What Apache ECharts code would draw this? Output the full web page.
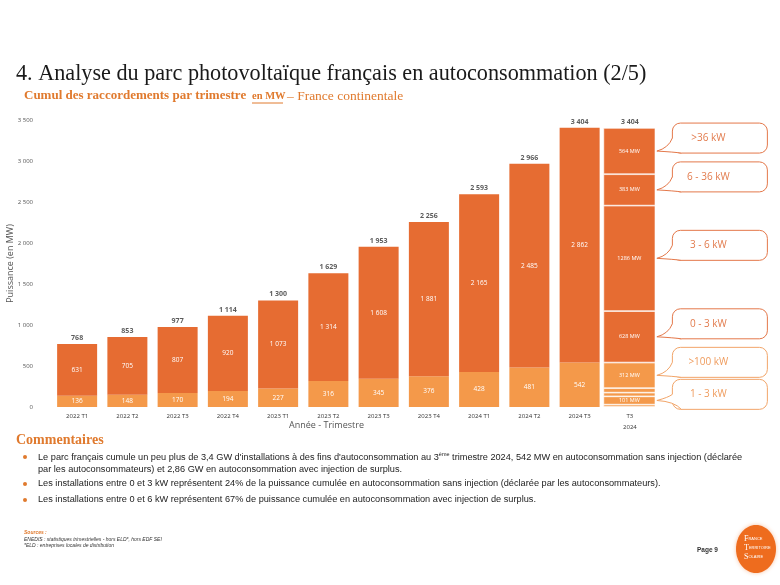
<!DOCTYPE html>
<html><head><meta charset="utf-8">
<script src="https://cdn.jsdelivr.net/npm/echarts@6/dist/echarts.min.js"></script>
<style>html,body{margin:0;padding:0;background:#fff}#c{width:780px;height:585px}</style>
</head><body><div id="c"></div>
<script>
// ---------- data ----------
const categories = ['2022 T1','2022 T2','2022 T3','2022 T4','2023 T1','2023 T2','2023 T3','2023 T4','2024 T1','2024 T2','2024 T3','T3\n2024'];
const sansInjection = [136,148,170,194,227,316,345,376,428,481,542];
const avecInjection = [631,705,807,920,1073,1314,1608,1881,2165,2485,2862];
const totals = [768,853,977,1114,1300,1629,1953,2256,2593,2966,3404,3404];
// breakdown of the 2024 T3 bar, bottom to top
const breakdownNames  = ['0 - 1 kW','1 - 3 kW','3 - 36 kW','36 - 100 kW','>100 kW','0 - 3 kW','3 - 6 kW','6 - 36 kW','>36 kW'];
const breakdownValues = [29,101,45,55,312,628,1286,383,564];
const breakdownGroup  = ['sans','sans','sans','sans','sans','avec','avec','avec','avec'];
const breakdownCallout = [false,true,false,false,true,true,true,true,true];
const yMin = 0, yMax = 3500, yInterval = 500;

// ---------- style ----------
const DARK = '#E66C32', LIGHT = '#F4994A';
const BAR_W = 40, BREAK_W = 53;
const fmt = v => String(v).replace(/\B(?=(\d{3})+(?!\d))/g, ' ');
const lastIdx = categories.length - 1;

const series = [
  { type:'bar', name:'Sans injection', stack:'a', xAxisIndex:0, barWidth:BAR_W,
    data: sansInjection.concat(['-']), itemStyle:{color:LIGHT},
    label:{show:true, position:'inside', color:'#fff', fontSize:6.5, fontFamily:'Open Sans', formatter:p=>fmt(p.value)} },
  { type:'bar', name:'Avec injection', stack:'a', xAxisIndex:0, barWidth:BAR_W,
    data: avecInjection.concat(['-']), itemStyle:{color:DARK},
    label:{show:true, position:'inside', color:'#fff', fontSize:6.5, fontFamily:'Open Sans', formatter:p=>fmt(p.value)} }
];
breakdownValues.forEach((v, i) => {
  const d = categories.map((c, k) => k === lastIdx ? v : '-');
  series.push({ type:'bar', name:breakdownNames[i], stack:'b', xAxisIndex:1, barWidth:BREAK_W, data:d,
    itemStyle:{color: breakdownGroup[i]==='sans' ? LIGHT : DARK, borderColor:'rgba(255,255,255,0.75)', borderWidth:0.8},
    label:{show: breakdownCallout[i], position:'inside', color:'#fff', fontSize:5.5, fontFamily:'Open Sans', formatter: v + ' MW'} });
});
series.push({ type:'scatter', xAxisIndex:0, data: totals, symbolSize:1, itemStyle:{color:'rgba(0,0,0,0)'},
  label:{show:true, position:'top', distance:2, color:'#333', fontWeight:'bold', fontSize:7, fontFamily:'Open Sans', formatter:p=>fmt(p.value)} });

// callouts (top to bottom)
const calloutData = [];
let acc = 0;
breakdownValues.forEach((v, i) => {
  if (breakdownCallout[i]) calloutData.push([lastIdx, acc, acc + v, breakdownNames[i], breakdownGroup[i]]);
  acc += v;
});
calloutData.reverse();
let prevBottom = -Infinity;
function renderCallout(params, api) {
  if (params.dataIndex === 0) prevBottom = -Infinity;
  const item = calloutData[params.dataIndex];
  const a = api.coord([api.value(0), api.value(1)]);
  const b = api.coord([api.value(0), api.value(2)]);
  const edgeX = a[0] + BREAK_W / 2;
  const segY = (a[1] + b[1]) / 2;
  const h = 30, w = 95;
  const top = Math.max(segY - 13 - h / 2, prevBottom + 2);
  prevBottom = top + h;
  const bx = edgeX + 16;
  const light = item[4] === 'sans';
  const col = light ? '#F2A569' : '#E4784A';
  const tcol = light ? '#EF9C5E' : '#E27B4D';
  const y1 = top + h - 15, y2 = top + h;
  const tail = `M ${bx} ${y1} Q ${bx-4} ${segY-3} ${edgeX+0.5} ${segY} Q ${bx+2} ${segY+1} ${bx+9} ${y2}`;
  return { type:'group', children:[
    { type:'rect', shape:{x:bx, y:top, width:w, height:h, r:8}, style:{fill:'#fff', stroke:col, lineWidth:1} },
    { type:'path', shape:{pathData: tail + ` L ${bx+9} ${y1} Z`}, style:{fill:'#fff', stroke:null} },
    { type:'path', shape:{pathData: tail}, style:{fill:null, stroke:col, lineWidth:1} },
    { type:'text', style:{x:bx + 36, y:top + h/2, text:item[3], fill:tcol, fontSize:10, fontFamily:'Open Sans', align:'center', verticalAlign:'middle'} }
  ]};
}
series.push({ type:'custom', xAxisIndex:1, yAxisIndex:0, data: calloutData, encode:{x:0, y:[1,2]},
  renderItem: renderCallout, z:10, silent:true });

const ORANGE = '#E07A2E';
const chart = echarts.init(document.getElementById('c'));
chart.setOption({
  animation:false,
  backgroundColor:'#fff',
  grid:{left:52, right:125, top:120, bottom:178, outerBoundsMode:'none', containLabel:false},
  xAxis:[
    { type:'category', data:categories, axisLine:{show:false}, axisTick:{show:false},
      axisLabel:{fontSize:6, color:'#333', fontFamily:'Open Sans', margin:4, interval:0, lineHeight:11},
      name:'Année - Trimestre', nameLocation:'middle', nameGap:14, nameMoveOverlap:false,
      nameTextStyle:{fontSize:9, color:'#555', fontFamily:'Open Sans', padding:[0,54,0,0]} },
    { type:'category', data:categories, show:false }
  ],
  yAxis:{ type:'value', min:yMin, max:yMax, interval:yInterval, splitLine:{show:false},
    axisLine:{show:false}, axisTick:{show:false},
    axisLabel:{fontSize:6, color:'#555', fontFamily:'Open Sans', margin:19, formatter:v=>fmt(v)},
    name:'Puissance (en MW)', nameLocation:'middle', nameGap:37, nameMoveOverlap:false,
    nameTextStyle:{fontSize:9, color:'#555', fontFamily:'Open Sans'} },
  series: series,
  graphic:[
    { type:'text', left:16, top:63, style:{text:'4. Analyse du parc photovoltaïque français en autoconsommation (2/5)', font:'22.2px "Liberation Serif"', fill:'#1a1a1a'} },
    { type:'text', left:24, top:89.5, style:{text:'Cumul des raccordements par trimestre', font:'bold 13px "Liberation Serif"', fill:ORANGE} },
    { type:'text', left:252, top:91, style:{text:'en MW', font:'bold 10.5px "Liberation Serif"', fill:ORANGE} },
    { type:'line', shape:{x1:252, y1:103, x2:283, y2:103}, style:{stroke:ORANGE, lineWidth:1} },
    { type:'text', left:287, top:89.5, style:{text:'– France continentale', font:'13.5px "Liberation Serif"', fill:ORANGE} },
    { type:'text', left:16, top:433, style:{text:'Commentaires', font:'bold 14px "Liberation Serif"', fill:ORANGE} },
    { type:'circle', shape:{cx:25, cy:457, r:2}, style:{fill:ORANGE} },
    { type:'circle', shape:{cx:25, cy:484, r:2}, style:{fill:ORANGE} },
    { type:'circle', shape:{cx:25, cy:500, r:2}, style:{fill:ORANGE} },
    { type:'text', left:38, top:451, style:{
        text:"{t|Le parc français cumule un peu plus de 3,4 GW d'installations à des fins d'autoconsommation au 3}{s|ème}{t| trimestre 2024, 542 MW en autoconsommation sans injection (déclarée}\n{t|par les autoconsommateurs) et 2,86 GW en autoconsommation avec injection de surplus.}",
        rich:{ t:{font:'9.2px "Liberation Sans"', fill:'#222', lineHeight:12}, s:{font:'5.5px "Liberation Sans"', fill:'#222', verticalAlign:'top', lineHeight:12} } } },
    { type:'text', left:38, top:479, style:{text:'Les installations entre 0 et 3 kW représentent 24% de la puissance cumulée en autoconsommation sans injection (déclarée par les autoconsommateurs).', font:'9.2px "Liberation Sans"', fill:'#222'} },
    { type:'text', left:38, top:495, style:{text:'Les installations entre 0 et 6 kW représentent 67% de puissance cumulée en autoconsommation avec injection de surplus.', font:'9.2px "Liberation Sans"', fill:'#222'} },
    { type:'text', left:24, top:530, style:{text:'Sources :', font:'italic bold 5px "Liberation Sans"', fill:ORANGE} },
    { type:'text', left:24, top:537, style:{text:'ENEDIS : statistiques trimestrielles - hors ELD*, hors EDF SEI\n*ELD : entreprises locales de distribution', font:'italic 5px "Liberation Sans"', fill:'#333', lineHeight:6} },
    { type:'text', left:697, top:547, style:{text:'Page 9', font:'bold 6.5px "Liberation Sans"', fill:'#333'} },
    { type:'ellipse', shape:{cx:756, cy:549, rx:20, ry:24}, style:{fill:'#EE6C1E', shadowBlur:4, shadowColor:'rgba(238,108,30,0.4)'} },
    { type:'text', left:744, top:535, style:{text:'{a|F}{b|RANCE}\n{a|T}{b|ERRITOIRE}\n{a|S}{b|OLAIRE}', rich:{a:{font:'8px "Liberation Serif"', fill:'#fff', lineHeight:9}, b:{font:'4px "Liberation Sans"', fill:'#fff', lineHeight:9}}} }
  ]
});
</script></body></html>
